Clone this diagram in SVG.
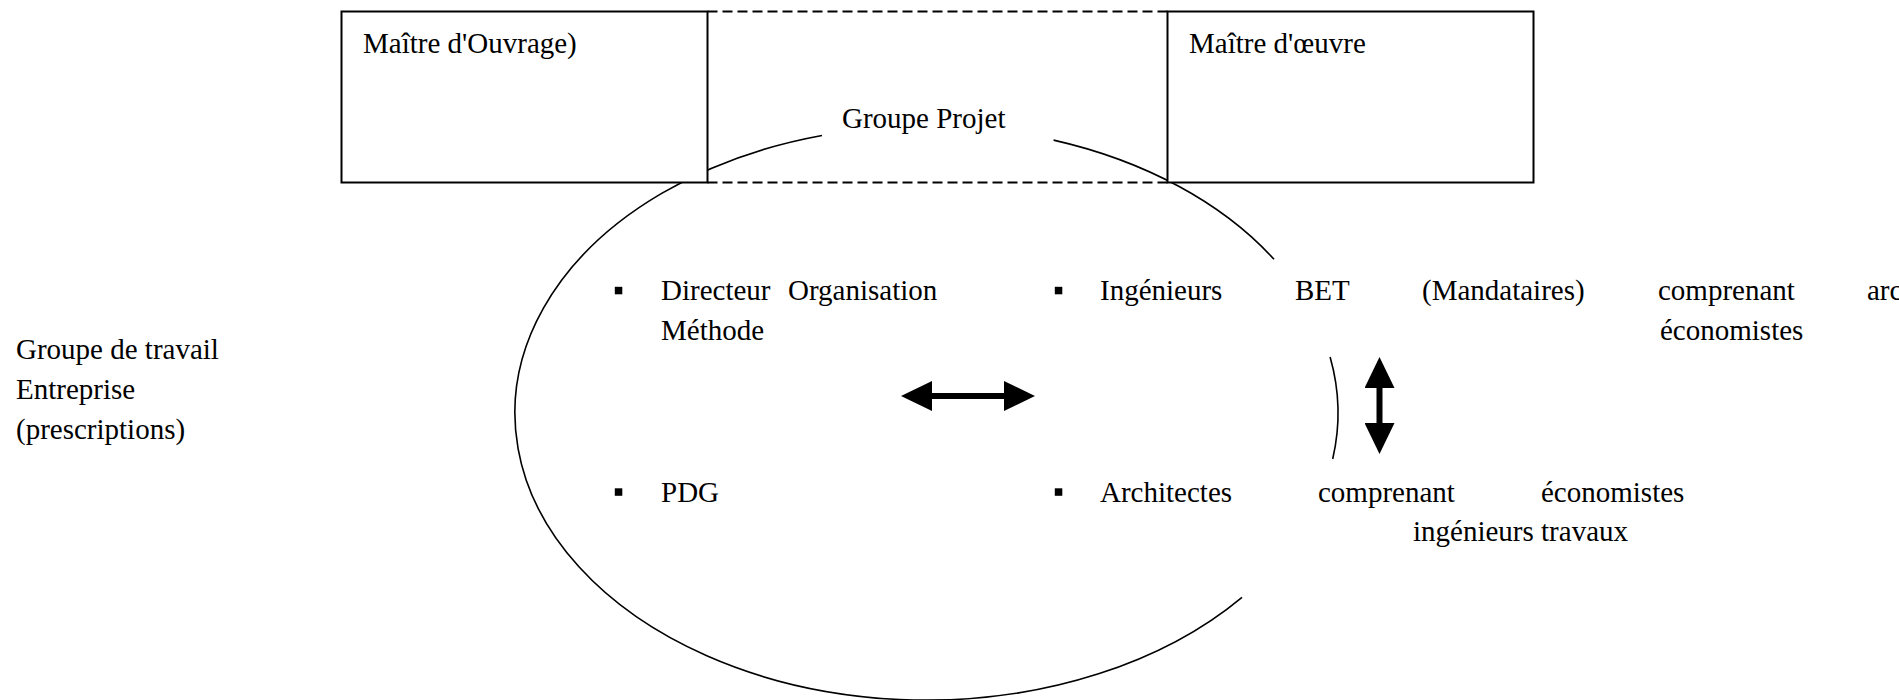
<svg xmlns="http://www.w3.org/2000/svg" width="1899" height="700" viewBox="0 0 1899 700">
  <style>
    .t { font-family: 'Liberation Serif', 'Times New Roman', Times, 'DejaVu Serif', serif; font-size: 29px; fill: #000; }
    .box { fill: #fff; stroke: #000; stroke-width: 2; }
    .oval { fill: none; stroke: #000; stroke-width: 1.6; }
    .dash { stroke: #000; stroke-width: 2; stroke-dasharray: 10 5; fill: none; }
    .bullet { fill: #000; }
    .arrow { stroke: #000; stroke-width: 6; fill: none; marker-start: url(#head); marker-end: url(#head); }
  </style>
  <defs>
    <marker id="head" viewBox="0 0 31 30" refX="0" refY="15" markerWidth="31" markerHeight="30" markerUnits="userSpaceOnUse" orient="auto-start-reverse">
      <path d="M0,0 L31,15 L0,30 Z" fill="#000"/>
    </marker>
  </defs>
  <rect width="1899" height="700" fill="#fff"/>

  <g id="groupe-projet">
    <path class="oval" d="M 822 135.5 A 411.5 287 0 1 0 1242 597.3"/>
    <path class="oval" d="M 1053.6 140.1 A 411.5 287 0 0 1 1274 259.3"/>
    <path class="oval" d="M 1330.1 357 A 411.5 287 0 0 1 1332.7 459"/>
    <text class="t" font-family="Liberation Serif, serif" x="842" y="128">Groupe Projet</text>
  </g>

  <g id="maitre-ouvrage">
    <rect class="box" x="341.5" y="11.5" width="366" height="171"/>
    <text class="t" font-family="Liberation Serif, serif" x="363" y="53">Maître d'Ouvrage)</text>
  </g>

  <g id="maitre-oeuvre">
    <rect class="box" x="1167.5" y="11.5" width="366" height="171"/>
    <text class="t" font-family="Liberation Serif, serif" x="1189" y="53">Maître d'œuvre</text>
  </g>

  <g id="connectors">
    <g id="dashed-links">
      <line class="dash" x1="707.5" y1="11.5" x2="1167.5" y2="11.5"/>
      <line class="dash" x1="707.5" y1="182.5" x2="1167.5" y2="182.5"/>
    </g>
    <line id="arrow-h" class="arrow" x1="932" y1="396" x2="1004" y2="396"/>
    <line id="arrow-v" class="arrow" x1="1379.5" y1="388" x2="1379.5" y2="423"/>
  </g>

  <g id="groupe-travail">
    <text class="t" x="16" y="359">Groupe de travail</text>
    <text class="t" x="16" y="399">Entreprise</text>
    <text class="t" x="16" y="439">(prescriptions)</text>
  </g>

  <g id="item-directeur">
    <rect class="bullet" x="614.8" y="286.8" width="7.5" height="7.5"/>
    <text class="t" y="300"><tspan x="661">Directeur</tspan><tspan x="788">Organisation</tspan></text>
    <text class="t" x="661" y="340">Méthode</text>
  </g>

  <g id="item-ingenieurs">
    <rect class="bullet" x="1054.8" y="286.8" width="7.5" height="7.5"/>
    <text class="t" y="300"><tspan x="1100">Ingénieurs</tspan><tspan x="1295">BET</tspan><tspan x="1422">(Mandataires)</tspan><tspan x="1658">comprenant</tspan><tspan x="1867">architectes</tspan></text>
    <text class="t" x="1660" y="340">économistes</text>
  </g>

  <g id="item-pdg">
    <rect class="bullet" x="614.8" y="488.3" width="7.5" height="7.5"/>
    <text class="t" x="661" y="502">PDG</text>
  </g>

  <g id="item-architectes">
    <rect class="bullet" x="1054.8" y="488.3" width="7.5" height="7.5"/>
    <text class="t" y="502"><tspan x="1100">Architectes</tspan><tspan x="1318">comprenant</tspan><tspan x="1541">économistes</tspan></text>
    <text class="t" x="1413" y="541">ingénieurs travaux</text>
  </g>
</svg>
